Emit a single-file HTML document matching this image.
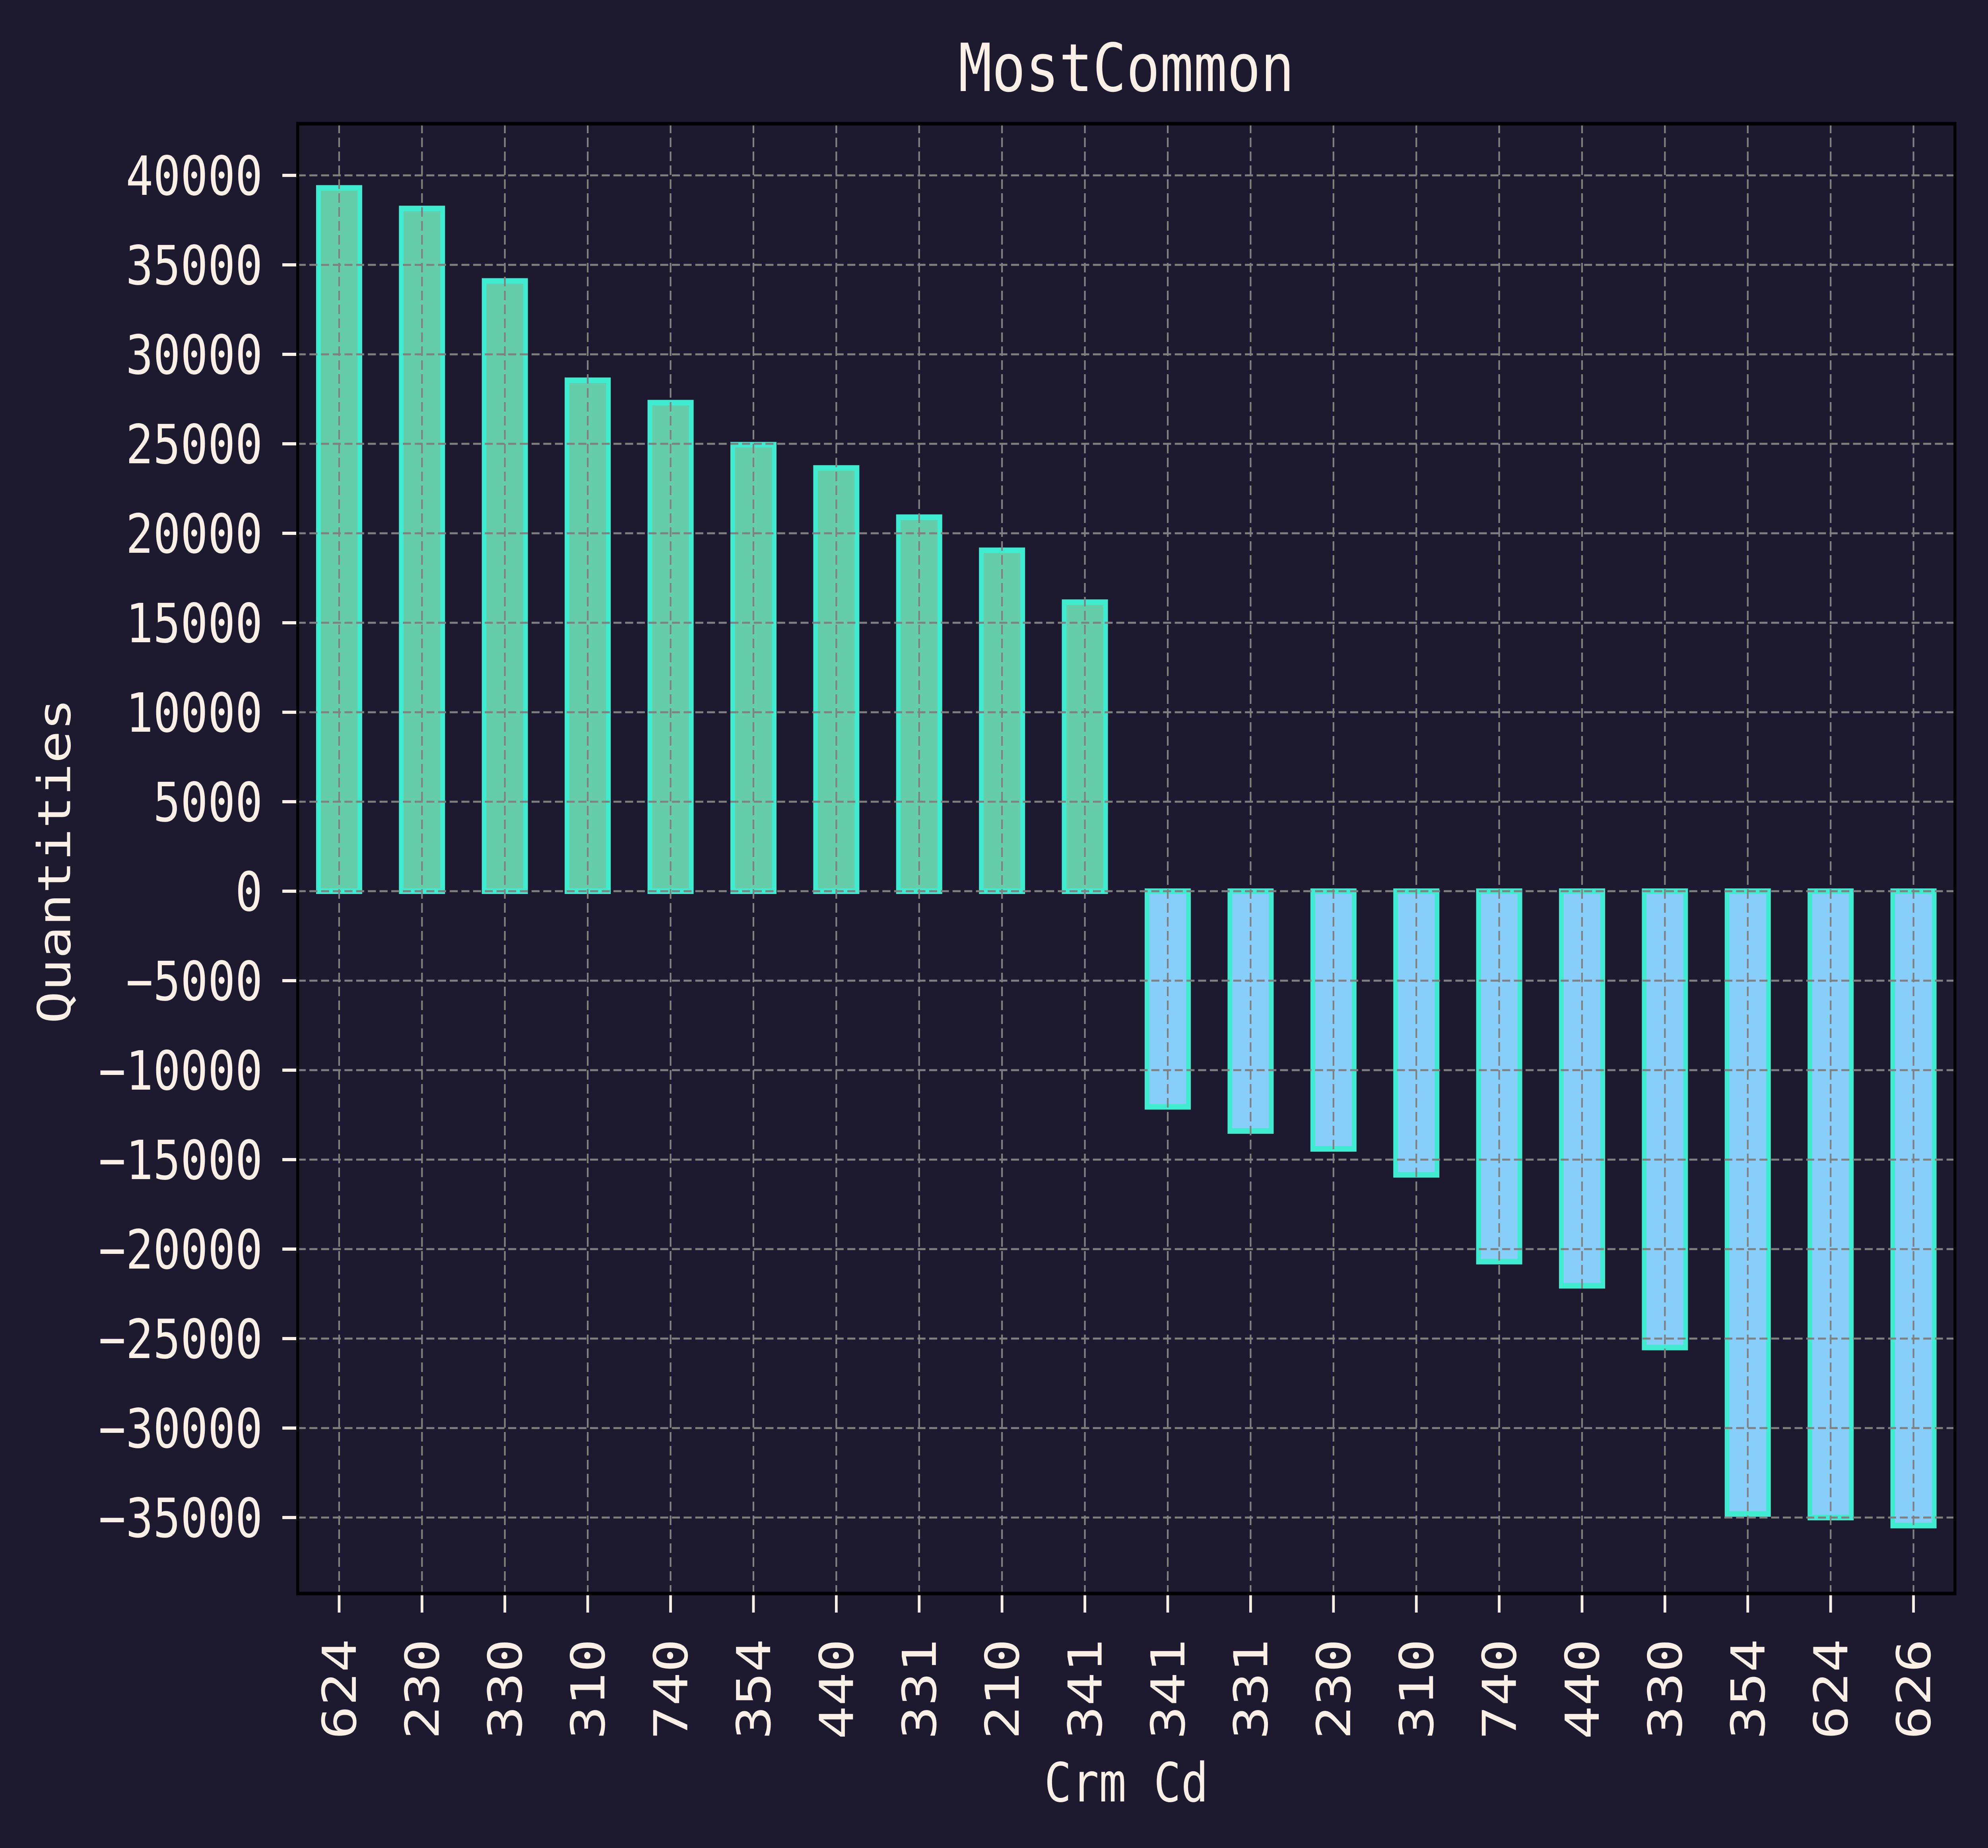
<!DOCTYPE html>
<html><head><meta charset="utf-8"><style>
html,body{margin:0;padding:0;background:#1d192e;width:100%;height:100%;overflow:hidden;}
svg{display:block;position:fixed;left:0;top:0;width:100vw;height:100vh;}
text{font-family:"DejaVu Sans Mono","Liberation Mono",monospace;fill:#faf0e6;}
</style></head><body>
<svg id="chart" viewBox="0 0 5950 4647" preserveAspectRatio="none" xmlns="http://www.w3.org/2000/svg">
<rect x="0" y="0" width="5950" height="4647" fill="#1d192e"/>
<text x="3371" y="229" font-size="167" text-anchor="middle">MostCommon</text>
<text x="3371" y="4530" font-size="136" text-anchor="middle">Crm Cd</text>
<text x="0" y="0" font-size="136" text-anchor="middle" transform="translate(210,2165) rotate(-90)">Quantities</text>
<g id="grid"></g>
<g id="bars"></g>
<g id="ticks"></g>
<rect x="891" y="311" width="4960" height="3696" fill="none" stroke="#000" stroke-width="9"/>
</svg>
<script>
const categories = ["624","230","330","310","740","354","440","331","210","341","341","331","230","310","740","440","330","354","624","626"];
const values = [39300,38150,34100,28550,27300,24950,23650,20900,19050,16150,-12050,-13400,-14400,-15850,-20700,-22050,-25500,-34800,-35000,-35450];
const yTicks = [40000,35000,30000,25000,20000,15000,10000,5000,0,-5000,-10000,-15000,-20000,-25000,-30000,-35000];

const NS = "http://www.w3.org/2000/svg";
const L = 891, R = 5851, T = 311, B = 4007;
const yZero = 2241, pxPer = 225/5000;
function yScale(v){ return yZero - v*pxPer; }
function xScale(i){ return L + (R-L)*(i+0.5)/categories.length; }
const step = (R-L)/categories.length;
const barW = step*0.5;

const grid = document.getElementById('grid');
const bars = document.getElementById('bars');
const ticks = document.getElementById('ticks');
function mk(tag, attrs, parent){ const e=document.createElementNS(NS,tag); for(const k in attrs) e.setAttribute(k,attrs[k]); parent.appendChild(e); return e; }

yTicks.forEach(v=>{
  const y = yScale(v);
  const g = mk('line',{x1:L,x2:R,y1:y,y2:y,stroke:'#808080','stroke-width':5,'stroke-dasharray':'24,11'},grid);
  
  
  const t = mk('line',{x1:L-46,x2:L,y1:y,y2:y,stroke:'#faf0e6','stroke-width':8},ticks);
  
  
  const lb = mk('text',{x:786,y:y+49,'font-size':136,'text-anchor':'end'},ticks);
  lb.textContent = (v<0?'\u2212'+(-v):String(v));
  
  
});

categories.forEach((c,i)=>{
  const x = xScale(i);
  const v = values[i];
  const y0 = yScale(Math.max(v,0)), y1 = yScale(Math.min(v,0));
  const r = mk('rect',{x:x-barW/2,y:y0,width:barW,height:y1-y0,fill:v>=0?'#66cdaa':'#87cefa',stroke:'#40ecd0','stroke-width':14},bars);
  
  
  const g = mk('line',{x1:x,x2:x,y1:T,y2:B,stroke:'#808080','stroke-width':5,'stroke-dasharray':'24,11'},grid);
  
  
  const t = mk('line',{x1:x,x2:x,y1:B,y2:B+48,stroke:'#faf0e6','stroke-width':8},ticks);
  
  
  const lb = mk('text',{x:0,y:0,'font-size':140,'text-anchor':'end',transform:'translate('+(x+50)+',4121) rotate(-90)'},ticks);
  lb.textContent = c;
  
  
});
document.getElementById('chart').insertBefore(grid, bars.nextSibling);
</script>
</body></html>
